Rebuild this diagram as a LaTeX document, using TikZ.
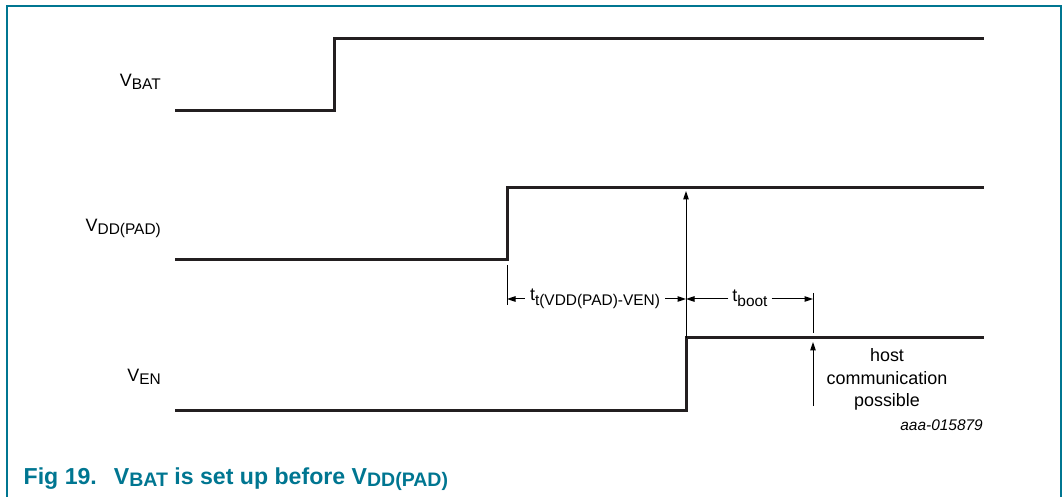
\documentclass[tikz,border=0pt]{standalone}
\usepackage{fontspec}
\setmainfont{Liberation Sans}
\usetikzlibrary{arrows.meta}
\definecolor{nxpteal}{RGB}{0,118,145}
\definecolor{sig}{RGB}{35,31,32}
\newcommand{\lsub}[2][2.5bp]{\raisebox{-#1}{\fontsize{15.5}{16}\selectfont #2}}
\newcommand{\csub}[1]{\raisebox{-2.5bp}{\fontsize{19.6}{20}\selectfont\bfseries #1}}
\tikzset{
  signal/.style={draw=sig, line width=3bp},
  thinline/.style={draw=black, line width=1bp},
  dimarrow/.style={thinline, -{Triangle[length=8.5bp,width=5.5bp]}},
  lbl/.style={inner sep=0pt, font=\fontsize{18}{22}\selectfont},
  framebox/.style={draw=nxpteal, line width=1.4bp},
}
\begin{document}
\begin{tikzpicture}[x=1bp,y=-1bp]
\useasboundingbox (0,0) rectangle (1063,497);
% frame
\coordinate (f0) at (7,497);
\coordinate (f1) at (7,6);
\coordinate (f2) at (1061,6);
\coordinate (f3) at (1061,497);
\draw[framebox] (f0) -- (f1) -- (f2) -- (f3);
% signals
\coordinate (a0) at (175,111); \coordinate (a1) at (334,111);
\coordinate (a2) at (334,39);  \coordinate (a3) at (984,39);
\coordinate (b0) at (175,260); \coordinate (b1) at (507,260);
\coordinate (b2) at (507,188); \coordinate (b3) at (984,188);
\coordinate (c0) at (175,410); \coordinate (c1) at (686,410);
\coordinate (c2) at (686,338); \coordinate (c3) at (984,338);
\draw[signal] (a0) -- (a1) -- (a2) -- (a3);
\draw[signal] (b0) -- (b1) -- (b2) -- (b3);
\draw[signal] (c0) -- (c1) -- (c2) -- (c3);
% labels
\node[lbl, anchor=base east] (lvbat) at (161,87) {V\lsub{BAT}};
\node[lbl, anchor=base east] (lvdd) at (161,232) {V\lsub{DD(PAD)}};
\node[lbl, anchor=base east] (lven) at (161,382) {V\lsub{EN}};
% vertical arrow from VEN edge to VDD(PAD)
\coordinate (vup) at (686,191);
\draw[dimarrow] (c2) -- (vup);
% ticks
\coordinate (t1top) at (507,265); \coordinate (t1bot) at (507,305);
\draw[thinline] (t1top) -- (t1bot);
\coordinate (t2top) at (813,293); \coordinate (t2bot) at (813,333);
\draw[thinline] (t2top) -- (t2bot);
% host arrow
\coordinate (h0) at (813,406); \coordinate (h1) at (813,342);
\draw[dimarrow] (h0) -- (h1);
% dimension arrows
\coordinate (d1) at (507,299); \coordinate (d2) at (686,299); \coordinate (d3) at (813,299);
\node[lbl, anchor=base, inner xsep=5bp] (ttl) at (595,301) {t\lsub[5bp]{t(VDD(PAD)-VEN)}};
\draw[dimarrow] (ttl.west |- d1) -- (d1);
\draw[dimarrow] (ttl.east |- d1) -- (d2);
\node[lbl, anchor=base, inner xsep=4bp] (tboot) at (750,302) {t\lsub[5bp]{boot}};
\draw[dimarrow] (tboot.west |- d1) -- (d2);
\draw[dimarrow] (tboot.east |- d1) -- (d3);
% host text
\node[lbl, anchor=base] (host1) at (887,361.5) {host};
\node[lbl, anchor=base] (host2) at (887,385) {communication};
\node[lbl, anchor=base] (host3) at (887,406) {possible};
% id
\node[anchor=base east, inner sep=0pt, font=\fontsize{15.5}{18}\selectfont\itshape] (figid) at (983,430) {aaa-015879};
% caption
\node[anchor=base west, inner sep=0pt, text=nxpteal, font=\fontsize{23.2}{26}\selectfont\bfseries] (cap) at (23.5,484) {Fig 19.\hspace{17bp}V\csub{BAT} is set up before V\csub{DD(PAD)}};
\end{tikzpicture}
\end{document}
